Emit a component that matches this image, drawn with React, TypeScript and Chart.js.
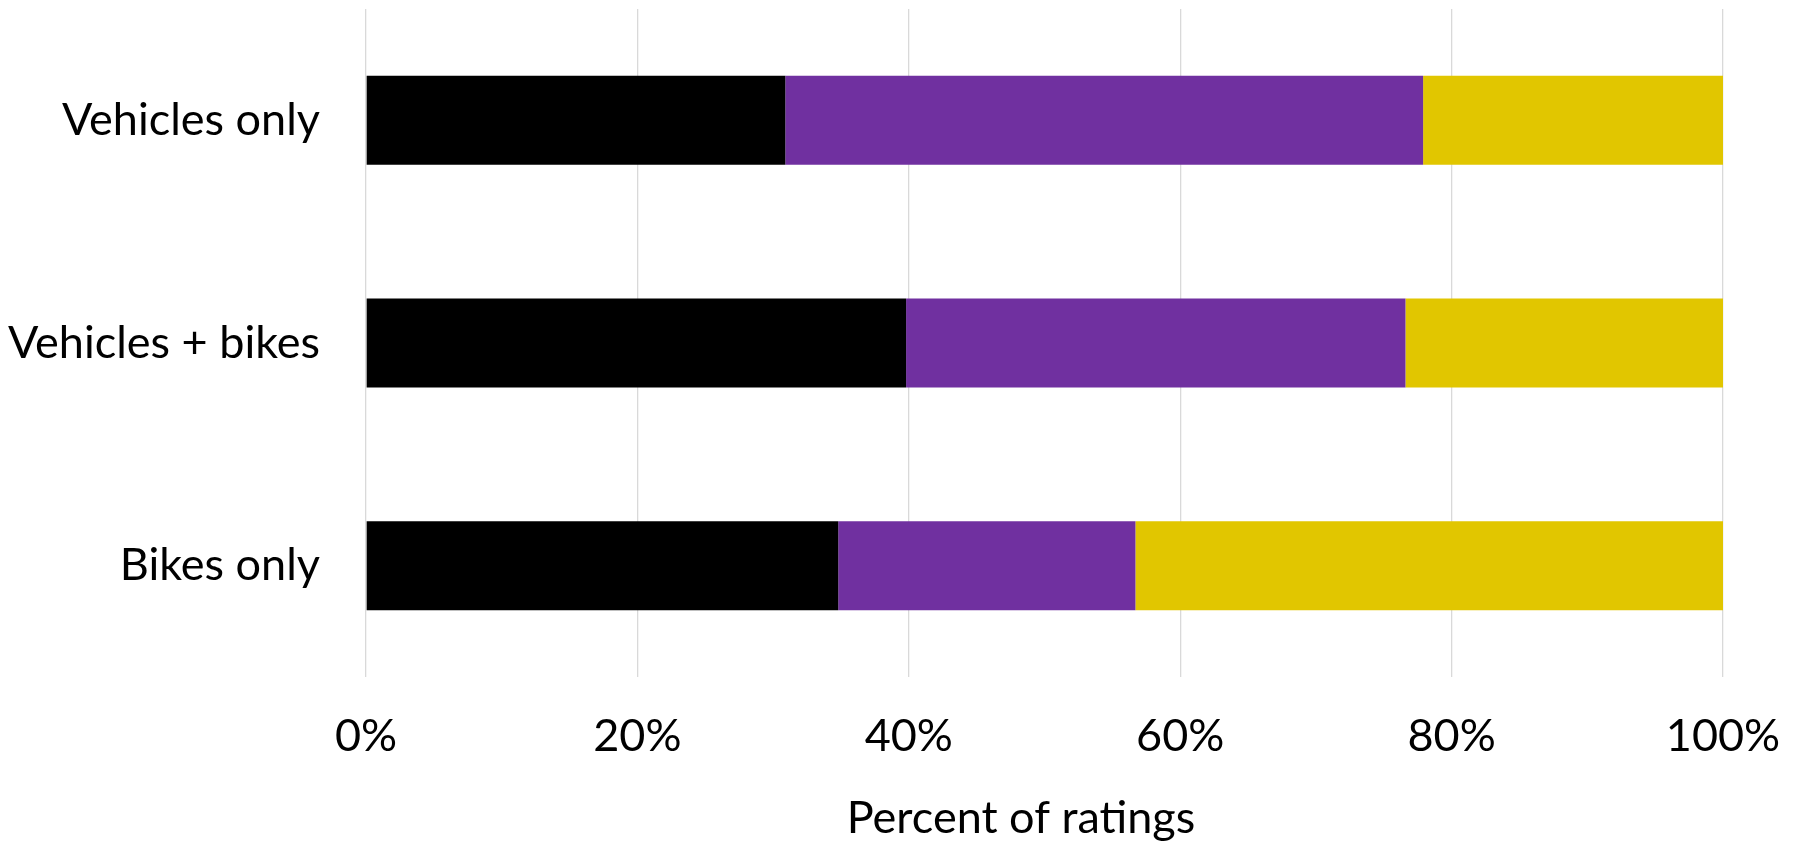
import React, { useEffect, useRef } from "react";
import { Chart, registerables } from "chart.js";

Chart.register(...registerables);

const categories = ["Vehicles only", "Vehicles + bikes", "Bikes only"];
const seriesNames = ["Group 1", "Group 2", "Group 3"];
const blackValues = [30.9, 39.8, 34.8];
const purpleValues = [47.0, 36.8, 21.9];
const yellowValues = [22.1, 23.4, 43.3];
const xTicks = [0, 20, 40, 60, 80, 100];
const axisTitle = "Percent of ratings";

const FONT = "Lato";
const FONT_SIZE = 45;

export default function App() {
  const ref = useRef<HTMLCanvasElement | null>(null);

  useEffect(() => {
    if (!ref.current) return;
    const titlePlugin = {
      id: "axisTitleDraw",
      afterDraw(chart: any) {
        const ctx = chart.ctx;
        ctx.save();
        ctx.font = `${FONT_SIZE}px ${FONT}`;
        ctx.fillStyle = "#000";
        ctx.textAlign = "center";
        ctx.textBaseline = "alphabetic";
        ctx.fillText(axisTitle, 1021, 833);
        ctx.restore();
      },
    };
    const zeroPad = (scale: any) => {
      scale.paddingTop = 0;
      scale.paddingBottom = 0;
      scale.paddingLeft = 0;
      scale.paddingRight = 0;
    };
    const chart = new Chart(ref.current, {
      type: "bar",
      data: {
        labels: categories,
        datasets: [
          { label: seriesNames[0], data: blackValues, backgroundColor: "#000000" },
          { label: seriesNames[1], data: purpleValues, backgroundColor: "#7030A0" },
          { label: seriesNames[2], data: yellowValues, backgroundColor: "#E1C600" },
        ],
      },
      options: {
        indexAxis: "y",
        animation: false,
        responsive: false,
        maintainAspectRatio: false,
        layout: { padding: { top: 9, right: 72, left: 0, bottom: 0 } },
        datasets: { bar: { barPercentage: 0.4, categoryPercentage: 1.0, borderWidth: 0 } },
        plugins: { legend: { display: false }, tooltip: { enabled: false }, title: { display: false } },
        scales: {
          x: {
            stacked: true,
            min: 0,
            max: 100,
            afterBuildTicks: (scale: any) => {
              scale.ticks = xTicks.map((v) => ({ value: v }));
            },
            afterFit: (scale: any) => {
              scale.height = 165;
              zeroPad(scale);
            },
            grid: { color: "#d9d9d9", lineWidth: 1.3, drawTicks: false },
            border: { display: false },
            ticks: {
              color: "#000",
              padding: 32,
              font: { family: FONT, size: FONT_SIZE },
              callback: (v: any) => `${v}%`,
              maxRotation: 0,
            },
          },
          y: {
            stacked: true,
            afterFit: (scale: any) => {
              scale.width = 366;
              zeroPad(scale);
            },
            grid: { display: false, drawTicks: false },
            border: { display: false },
            ticks: {
              color: "#000",
              padding: 46,
              labelOffset: 0,
              font: { family: FONT, size: FONT_SIZE },
            },
          },
        },
      },
      plugins: [titlePlugin],
    } as any);
    return () => chart.destroy();
  }, []);

  return (
    <div style={{ position: "fixed", left: 0, top: 0, width: 1795, height: 842, background: "#fff" }}>
      <canvas ref={ref} width={1795} height={842} style={{ width: 1795, height: 842 }} />
    </div>
  );
}
